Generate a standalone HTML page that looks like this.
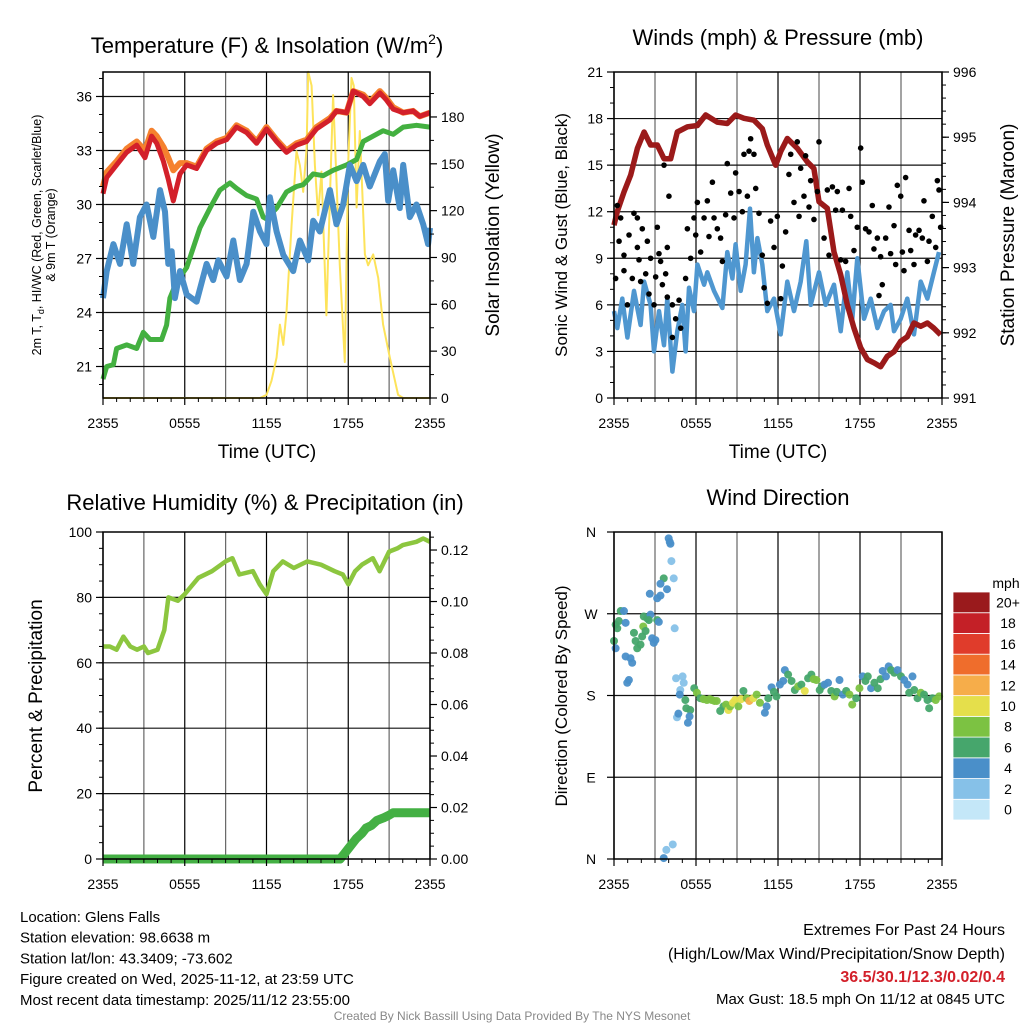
<!DOCTYPE html>
<html><head><meta charset="utf-8">
<style>
html,body{margin:0;padding:0;background:#fff;}
svg{display:block;font-family:"Liberation Sans",Arial,sans-serif;}
</style></head>
<body>
<svg id="c" width="1024" height="1024" viewBox="0 0 1024 1024"></svg>
<script>
// ---------- DATA ----------
const tempHours=[0,0.27,1.0,1.74,2.47,3.08,3.57,3.94,4.43,4.79,5.16,5.65,6.14,6.87,7.6,8.34,9.07,9.8,10.54,11.27,12.0,12.74,13.47,14.2,14.94,15.67,16.65,17.14,17.87,18.36,19.1,19.58,20.32,20.81,21.3,22.03,22.76,23.25,23.99];
const tempRed=[30.6,31.5,32.2,32.9,33.3,32.6,33.8,33.4,32.4,31.4,30.2,31.7,32.2,32.0,33,33.4,33.6,34.3,34,33.4,34.2,33.5,32.9,33.3,33.5,34.2,34.7,35.2,35.1,36.3,36,35.6,36.2,35.8,35.3,35.1,35.2,34.9,35.1];
const temp9m=[31.0,31.8,32.4,33.1,33.5,33.0,34.1,33.8,33.2,32.6,31.9,32.3,32.3,32.1,33.1,33.5,33.7,34.4,34.1,33.5,34.3,33.6,33.0,33.4,33.6,34.3,34.8,35.2,35.1,36.3,36.1,35.7,36.3,35.9,35.4,35.1,35.2,34.9,35.1];
const dewHours=[0,0.27,0.76,1.0,1.74,2.47,2.96,3.45,4.3,4.67,4.91,5.4,6.14,6.63,7.11,7.85,8.58,9.32,9.8,10.54,11.27,11.76,12.0,12.74,13.47,14.2,14.69,15.43,16.16,16.89,17.87,18.61,19.1,19.83,20.56,21.3,22.03,23.01,23.99];
const dewVals=[20.3,21,21.1,22.0,22.2,22.0,22.9,22.5,22.5,23.3,24.8,25.7,26.5,27.6,28.7,29.8,30.8,31.2,30.9,30.5,30.3,29.3,29.2,29.8,30.7,31,31.1,31.7,31.6,31.9,32.2,32.5,33.5,33.8,34.1,33.9,34.3,34.4,34.3];
const wcHours=[0,0.27,0.76,1.25,1.74,2.22,2.71,3.2,3.69,4.18,4.55,4.79,5.04,5.28,5.65,6.14,6.87,7.6,8.09,8.46,9.07,9.56,10.05,10.54,11.03,11.52,12.0,12.25,12.74,13.23,13.96,14.45,15.06,15.43,15.92,16.65,17.14,17.63,18.12,18.61,19.1,19.58,20.32,20.68,20.93,21.3,21.78,22.03,22.52,23.01,23.5,23.86,24.0];
const wcVals=[24.8,26.3,27.8,26.7,28.9,26.7,29.3,30,28.2,30.8,29.6,26.7,27.4,24.8,26.3,25,24.6,26.7,25.8,26.9,26,28,25.8,26.7,29.6,28.5,27.8,30.4,28.5,27.2,26.3,28,26.9,29.1,28.5,30.8,28.9,30,32.2,31.3,32.2,31,32.4,32.8,30.2,31.9,29.8,32.2,29.3,30,28.9,27.8,28.7];
const solHours=[0,11.52,12.0,12.37,12.74,12.98,13.23,13.47,13.84,14.2,14.45,14.69,14.94,15.06,15.31,15.55,15.79,16.04,16.4,16.65,16.89,17.14,17.38,17.75,17.99,18.24,18.41,18.61,18.85,19.22,19.46,19.83,20.2,20.56,21.05,21.66,22.03,24];
const solVals=[0,0,2,11,26,47,34,55,111,158,149,132,160,209,200,149,117,145,53,128,194,139,85,23,149,205,200,122,171,92,85,92,77,47,26,2,0,0];
const presHours=[0,0.24,0.73,1.22,1.71,2.2,2.68,3.17,3.66,4.15,4.63,5.37,6.1,6.71,7.56,8.29,8.9,9.51,10.24,10.85,11.22,11.83,12.2,12.68,13.41,14.15,14.63,15.0,15.61,16.1,16.59,17.07,17.56,18.05,18.54,19.02,19.51,20.0,20.49,20.98,21.46,21.95,22.44,22.93,23.41,23.9];
const presVals=[993.65,993.86,994.16,994.42,994.83,995.08,994.88,994.88,994.67,994.67,995.08,995.16,995.18,995.34,995.23,995.21,995.34,995.29,995.26,995.13,994.88,994.57,994.78,994.98,994.83,994.62,994.52,994.01,993.91,993.24,992.89,992.43,992.07,991.77,991.59,991.54,991.48,991.64,991.71,991.87,991.94,992.15,992.1,992.15,992.07,991.97];
const windHours=[0,0.24,0.61,0.98,1.46,1.95,2.2,2.68,2.93,3.29,3.66,3.9,4.27,4.63,5.0,5.24,5.49,5.85,6.1,6.59,6.83,7.32,7.93,8.29,8.66,8.9,9.27,9.63,9.95,10.24,10.49,10.85,11.22,11.71,12.2,12.68,13.17,13.66,14.07,14.39,15.0,15.49,16.1,16.59,17.07,17.44,17.8,18.29,18.78,19.27,19.76,20.24,20.49,20.98,21.46,21.95,22.44,22.93,23.41,23.78];
const windVals=[5.6,4.5,6.4,3.9,6.9,4.7,7.5,6.0,3.0,5.6,3.4,6.4,1.7,4.3,6.0,3.0,7.1,5.6,8.6,7.3,8.1,6.9,5.8,9.4,7.7,9.9,6.9,8.6,12.2,8.1,10.3,8.6,5.6,6.4,4.1,7.5,5.6,7.5,10.1,6.0,8.1,6.0,7.3,4.3,8.1,5.1,9.0,5.1,6.4,4.5,5.6,6.0,4.3,5.1,6.4,4.1,7.5,6.4,8.1,9.4];
const gustHours=[0.12,0.24,0.49,0.37,0.73,0.73,0.98,1.1,1.34,1.46,1.71,1.71,1.83,1.95,2.07,2.32,2.44,2.56,2.68,2.93,3.05,3.17,3.29,3.41,3.54,3.66,3.78,3.9,4.02,3.9,4.27,4.27,4.51,4.76,4.88,5.24,5.37,5.61,5.85,5.98,6.1,6.34,6.59,6.83,6.95,7.2,7.32,7.56,7.8,7.93,8.17,8.29,8.54,8.78,8.9,9.15,9.39,9.51,9.76,9.88,10.0,10.24,10.37,10.61,10.85,10.98,11.22,11.46,11.71,11.95,12.2,12.32,12.56,12.8,12.93,13.17,13.41,13.54,13.66,13.9,14.02,14.27,14.39,14.63,14.88,15.0,15.37,15.61,15.73,15.98,16.22,16.34,16.59,16.71,16.95,17.2,17.32,17.56,17.8,18.05,18.17,18.41,18.66,18.9,19.02,19.27,19.39,19.51,19.63,19.88,20.12,20.24,20.49,20.61,20.73,20.98,21.1,21.22,21.34,21.59,21.71,21.95,22.07,22.32,22.56,22.68,22.93,23.05,23.29,23.54,23.66,23.78,23.9];
const gustVals=[7.7,12.4,11.6,10.1,9.2,8.2,6.0,10.5,7.7,11.9,11.6,9.7,8.9,7.5,10.9,8.0,10.1,6.7,9.0,6.0,7.8,11.0,9.3,8.8,7.3,15.0,8.0,9.7,13.0,6.5,6.0,3.9,5.1,6.3,4.5,7.7,10.9,9.0,11.6,10.5,12.6,9.4,11.6,12.7,10.4,13.9,11.6,10.9,10.3,8.8,11.8,15.1,13.2,11.6,14.5,13.3,12.0,15.7,13.0,15.9,16.7,15.7,13.5,11.9,9.2,7.1,6.1,11.4,9.7,11.7,6.4,8.5,10.7,14.4,15.7,12.6,16.5,11.7,14.8,13.0,15.6,12.3,14.0,11.5,13.3,16.5,10.3,13.4,9.2,13.6,12.1,13.3,8.9,12.1,8.8,13.5,11.7,9.5,11.0,16.1,13.9,10.9,10.7,12.4,9.6,10.3,6.6,9.1,7.3,10.3,12.3,9.3,11.1,8.6,13.7,13.0,9.4,8.2,14.2,10.8,9.5,8.6,10.5,10.8,10.3,12.7,8.8,10.1,11.7,9.7,14.0,13.4,11.0];
const rhHours=[0,0.5,1,1.5,2,2.5,3,3.3,4,4.5,4.8,5.5,6,7,8,9,9.5,10,11,11.5,12,12.5,13.2,14,15,16,17,17.6,18,18.5,19,19.8,20.3,21,21.6,22,23,23.5,24];
const rhVals=[65,65,64,68,65,64,65,63,64,70,80,79,81,86,88,91,92,87,88,84,81,88,91,89,91,90,88,87,84,88,90,92,88,94,95,96,97,98,97];
const pcpHours=[0,17.4,17.7,18.0,18.3,18.6,19.0,19.3,19.7,20.1,20.6,21.0,21.3,24];
const pcpVals=[0,0,0.002,0.004,0.006,0.008,0.010,0.012,0.013,0.015,0.016,0.017,0.018,0.018];
const dirHours=[0,0.12,0.24,0.36,0.49,0.73,0.85,0.12,0.85,1.21,1.33,0.97,1.09,1.46,1.58,1.70,1.94,2.06,2.14,2.31,2.18,2.43,2.67,2.55,2.79,3.03,2.91,3.16,3.28,2.62,3.16,3.40,3.64,3.40,3.88,4.0,4.08,4.13,4.2,4.37,4.44,3.64,3.83,4.30,4.54,5.02,5.10,4.85,4.81,5.22,5.29,5.58,4.61,4.71,5.41,5.53,5.87,6.07,6.31,6.55,6.80,7.0,7.16,7.35,7.52,7.77,8.01,8.2,8.37,8.50,8.7,8.86,9.10,9.3,9.47,9.71,9.90,10.19,10.44,10.68,11.04,11.17,11.29,11.53,11.7,11.89,12.14,12.38,12.50,12.74,12.99,13.23,13.47,13.71,13.96,14.20,14.44,14.6,14.81,15.05,15.2,15.41,15.66,15.90,16.14,16.3,16.50,16.75,16.99,17.23,17.43,17.72,17.96,18.20,18.4,18.57,18.81,19.05,19.30,19.5,19.66,19.90,20.10,20.27,20.51,20.75,21.0,21.24,21.48,21.84,21.60,21.97,22.21,22.45,22.69,22.94,23.06,23.30,23.54,23.79];
const dirVals=[240,258,254,262,273,273,260,232,223,221,216,194,197,249,240,232,236,245,256,251,267,265,269,263,243,241,238,263,261,292,287,290,309,303,297,353,349,347,328,309,254,1,10,16,199,201,194,186,181,175,166,164,156,160,150,157,188,183,177,176,175,176,175,174,174,163,168,170,164,168,172,175,168,176,185,177,174,177,181,172,161,168,177,189,184,179,192,196,208,203,196,186,190,192,185,199,203,198,197,186,190,192,194,185,179,184,197,181,185,181,170,177,188,201,196,201,188,194,188,198,207,201,212,208,205,208,201,197,192,201,183,186,177,183,181,175,166,177,175,179];
const dirSpeeds=[5,6,6,6,5,4,4,4,4,4,4,4,4,6,6,6,6,6,8,6,6,6,4,6,4,4,3,6,4,4,4,4,6,4,4,4,3,3,1,2,2,4,2,2,2,2,2,2,4,6,6,6,2,4,4,4,6,8,6,8,8,7,8,8,8,6,6,7,10,8,9,10,8,9,6,8,12,10,8,8,4,4,6,4,6,6,4,4,4,6,6,6,8,6,10,6,6,7,8,6,6,4,4,6,8,6,4,4,6,8,8,6,8,4,5,6,4,6,6,5,4,4,4,6,6,4,6,4,4,4,6,6,6,8,6,6,6,6,8,8];
const cbLabels=["0","2","4","6","8","10","12","14","16","18","20+"];
const cbColors=["#c4e7f8","#86c1e8","#4a8fc9","#46a66c","#7cc242","#e5df4b","#f6ad4a","#ef6d2c","#e03c2b","#c42027","#9a1a1c"];

// ---------- HELPERS ----------
const NS="http://www.w3.org/2000/svg";
const svg=document.getElementById('c');
function mk(tag,attrs,parent){const e=document.createElementNS(NS,tag);for(const k in attrs)e.setAttribute(k,attrs[k]);(parent||svg).appendChild(e);return e;}
function lin(d0,d1,r0,r1){return v=>r0+(v-d0)/(d1-d0)*(r1-r0);}
function txt(x,y,s,size,anchor,extra){const t=mk('text',Object.assign({x:x,y:y,'font-size':size,'text-anchor':anchor||'middle',fill:'#000'},extra||{}));t.textContent=s;return t;}
function pathFrom(xs,ys,sx,sy){let d='';for(let i=0;i<xs.length;i++){d+=(i?'L':'M')+sx(xs[i]).toFixed(1)+','+sy(ys[i]).toFixed(1);}return d;}
const xLabels=["2355","0555","1155","1755","2355"];

function frame(L,T,W,H,hLines,sy,name){
  const g=mk('g',{});
  
  
  for(let h=0;h<=24;h+=3){const x=L+h/24*W;const l=mk('line',{x1:x,y1:T,x2:x,y2:T+H,stroke:(h%6==0)?'#000':'#666','stroke-width':1.2},g);
    
    }
  hLines.forEach(v=>{const y=sy(v);const l=mk('line',{x1:L,y1:y,x2:L+W,y2:y,stroke:'#111','stroke-width':1.2},g);
    
    });
  return g;
}
function border(L,T,W,H,name){const r=mk('rect',{x:L,y:T,width:W,height:H,fill:'none',stroke:'#000','stroke-width':1.5});
  
  
  for(let i=0;i<5;i++){const x=L+i*W/4;mk('line',{x1:x,y1:T+H,x2:x,y2:T+H+7,stroke:'#000','stroke-width':1.2});
    const t=txt(x,T+H+30,xLabels[i],14);
    
    }
  for(let h=1;h<24;h++){if(h%6){const x=L+h/24*W;mk('line',{x1:x,y1:T+H,x2:x,y2:T+H+4,stroke:'#000','stroke-width':1});}}
}
function yTicks(vals,labels,sy,x,side){vals.forEach((v,i)=>{const y=sy(v);
  mk('line',{x1:x,y1:y,x2:x+(side=='L'?-7:7),y2:y,stroke:'#000','stroke-width':1.2});
  const t=txt(side=='L'?x-11:x+11,y+5,labels[i],14,side=='L'?'end':'start');
  
  });}
function minor(from,to,step,sy,x,side){for(let v=from;v<=to+1e-9;v+=step){const y=sy(v);mk('line',{x1:x,y1:y,x2:x+(side=='L'?-4:4),y2:y,stroke:'#000','stroke-width':1});}}

// ---------- PANEL 1 ----------
{
const L=103,T=72,W=327,H=326;
const sx=lin(0,24,L,L+W), sy=lin(19.25,37.36,T+H,T), sy2=lin(0,208.8,T+H,T);
frame(L,T,W,H,[21,24,27,30,33,36],sy,'temperature-grid');
let p=mk('path',{d:pathFrom(solHours,solVals,sx,sy2),fill:'none',stroke:'#fde35a','stroke-width':2,'stroke-linejoin':'round'});


p=mk('path',{d:pathFrom(dewHours,dewVals,sx,sy),fill:'none',stroke:'#43b040','stroke-width':5,'stroke-linejoin':'round'});


p=mk('path',{d:pathFrom(wcHours,wcVals,sx,sy),fill:'none',stroke:'#4a8fc9','stroke-width':6,'stroke-linejoin':'round'});


p=mk('path',{d:pathFrom(tempHours,temp9m,sx,sy),fill:'none',stroke:'#f5812e','stroke-width':6,'stroke-linejoin':'round'});


p=mk('path',{d:pathFrom(tempHours,tempRed,sx,sy),fill:'none',stroke:'#d3202a','stroke-width':5,'stroke-linejoin':'round'});


border(L,T,W,H,'temperature-plot-area');
yTicks([21,24,27,30,33,36],["21","24","27","30","33","36"],sy,L,'L');
minor(20,37,1,sy,L,'L');
yTicks([0,30,60,90,120,150,180],["0","30","60","90","120","150","180"],sy2,L+W,'R');
minor(15,195,30,sy2,L+W,'R');
let t=txt(267,53,'Temperature (F) & Insolation (W/m',22);


const ts=mk('tspan',{'font-size':14,dy:-9},t);ts.textContent='2';
const ts2=mk('tspan',{dy:9},t);ts2.textContent=')';
t=txt(267,458,'Time (UTC)',19);


t=txt(0,0,'Solar Insolation (Yellow)',19,'middle',{transform:'translate(499,235) rotate(-90)'});


t=mk('text',{'font-size':12.5,'text-anchor':'middle',transform:'translate(41,235) rotate(-90)'});
t.innerHTML='2m T, T<tspan font-size="9" dy="3">d</tspan><tspan dy="-3">, HI/WC (Red, Green, Scarlet/Blue)</tspan>';


t=txt(0,0,'& 9m T (Orange)',12.5,'middle',{transform:'translate(55,235) rotate(-90)'});


}

// ---------- PANEL 2 ----------
{
const L=614,T=72,W=328,H=326;
const sx=lin(0,24,L,L+W), sy=lin(0,21,T+H,T), sy2=lin(991,996,T+H,T);
frame(L,T,W,H,[3,6,9,12,15,18],sy,'winds-grid');
let p=mk('path',{d:pathFrom(windHours,windVals,sx,sy),fill:'none',stroke:'#4f97d0','stroke-width':4.5,'stroke-linejoin':'round'});


p=mk('path',{d:pathFrom(presHours,presVals,sx,sy2),fill:'none',stroke:'#9b1a1a','stroke-width':5.5,'stroke-linejoin':'round'});


for(let i=0;i<gustHours.length;i++){const c=mk('circle',{cx:sx(gustHours[i]),cy:sy(gustVals[i]),r:2.8,fill:'#000'});
  
  }
border(L,T,W,H,'winds-plot-area');
yTicks([0,3,6,9,12,15,18,21],["0","3","6","9","12","15","18","21"],sy,L,'L');
minor(1,20,1,sy,L,'L');
yTicks([991,992,993,994,995,996],["991","992","993","994","995","996"],sy2,L+W,'R');
minor(991.2,995.8,0.2,sy2,L+W,'R');
let t=txt(778,45,'Winds (mph) & Pressure (mb)',22);


t=txt(778,458,'Time (UTC)',19);


t=txt(0,0,'Sonic Wind & Gust (Blue, Black)',17,'middle',{transform:'translate(567,235) rotate(-90)'});


t=txt(0,0,'Station Pressure (Maroon)',19,'middle',{transform:'translate(1014,235) rotate(-90)'});


}

// ---------- PANEL 3 ----------
{
const L=103,T=532,W=327,H=327;
const sx=lin(0,24,L,L+W), sy=lin(0,100,T+H,T), sy2=lin(0,0.127,T+H,T);
frame(L,T,W,H,[20,40,60,80],sy,'humidity-grid');
let p=mk('path',{d:pathFrom(rhHours,rhVals,sx,sy),fill:'none',stroke:'#8cc63f','stroke-width':4.5,'stroke-linejoin':'round'});


p=mk('path',{d:pathFrom(pcpHours,pcpVals,sx,sy2),fill:'none',stroke:'#44b044','stroke-width':9,'stroke-linejoin':'round'});


border(L,T,W,H,'humidity-plot-area');
yTicks([0,20,40,60,80,100],["0","20","40","60","80","100"],sy,L,'L');
minor(0,100,5,sy,L,'L');
yTicks([0,0.02,0.04,0.06,0.08,0.10,0.12],["0.00","0.02","0.04","0.06","0.08","0.10","0.12"],sy2,L+W,'R');
minor(0,0.126,0.005,sy2,L+W,'R');
let t=txt(265,510,'Relative Humidity (%) & Precipitation (in)',22);


t=txt(0,0,'Percent & Precipitation',19,'middle',{transform:'translate(42,696) rotate(-90)'});


}

// ---------- PANEL 4 ----------
{
const L=614,T=532,W=328,H=327;
const sx=lin(0,24,L,L+W), sy=lin(0,360,T+H,T);
frame(L,T,W,H,[90,180,270],sy,'direction-grid');
for(let i=0;i<dirHours.length;i++){const s=Math.max(0,Math.min(10,Math.round(dirSpeeds[i]/2)));
  const c=mk('circle',{cx:sx(dirHours[i]),cy:sy(dirVals[i]),r:4,fill:cbColors[s],'fill-opacity':0.95});
  
  }
border(L,T,W,H,'direction-plot-area');
const dl=["N","E","S","W","N"];
[0,90,180,270,360].forEach((v,i)=>{const y=sy(v);mk('line',{x1:L,y1:y,x2:L-7,y2:y,stroke:'#000','stroke-width':1.2});
  const t=txt(591,y+5,dl[i],14);
  
  });
let t=txt(778,505,'Wind Direction',22);


t=txt(0,0,'Direction (Colored By Speed)',17,'middle',{transform:'translate(567,696) rotate(-90)'});


// colorbar
const cbT=592,cbB=820,bh=(cbB-cbT)/cbColors.length;
for(let i=0;i<cbColors.length;i++){const y=cbB-(i+1)*bh;
  const r=mk('rect',{x:953,y:y,width:37,height:bh,fill:cbColors[i],stroke:'#fff','stroke-width':0.8});
  
  
  const l=txt(1008,y+bh/2+5,cbLabels[i],14);
  
  }
t=txt(1006,588,'mph',14);


}

// ---------- FOOTER ----------
const info=["Location: Glens Falls","Station elevation: 98.6638 m","Station lat/lon: 43.3409; -73.602","Figure created on Wed, 2025-11-12, at 23:59 UTC","Most recent data timestamp: 2025/11/12 23:55:00"];
info.forEach((s,i)=>{const t=txt(20,922+i*20.7,s,15,'start');
  
  });
let t=txt(1005,935,'Extremes For Past 24 Hours',16,'end');


t=txt(1005,959,'(High/Low/Max Wind/Precipitation/Snow Depth)',16,'end');


t=txt(1005,982,'36.5/30.1/12.3/0.02/0.4',16,'end',{fill:'#d3202a','font-weight':'bold'});


t=txt(1005,1004,'Max Gust: 18.5 mph On 11/12 at 0845 UTC',15,'end');


t=txt(512,1020,'Created By Nick Bassill Using Data Provided By The NYS Mesonet',12,'middle',{fill:'#888'});


</script>
</body></html>
